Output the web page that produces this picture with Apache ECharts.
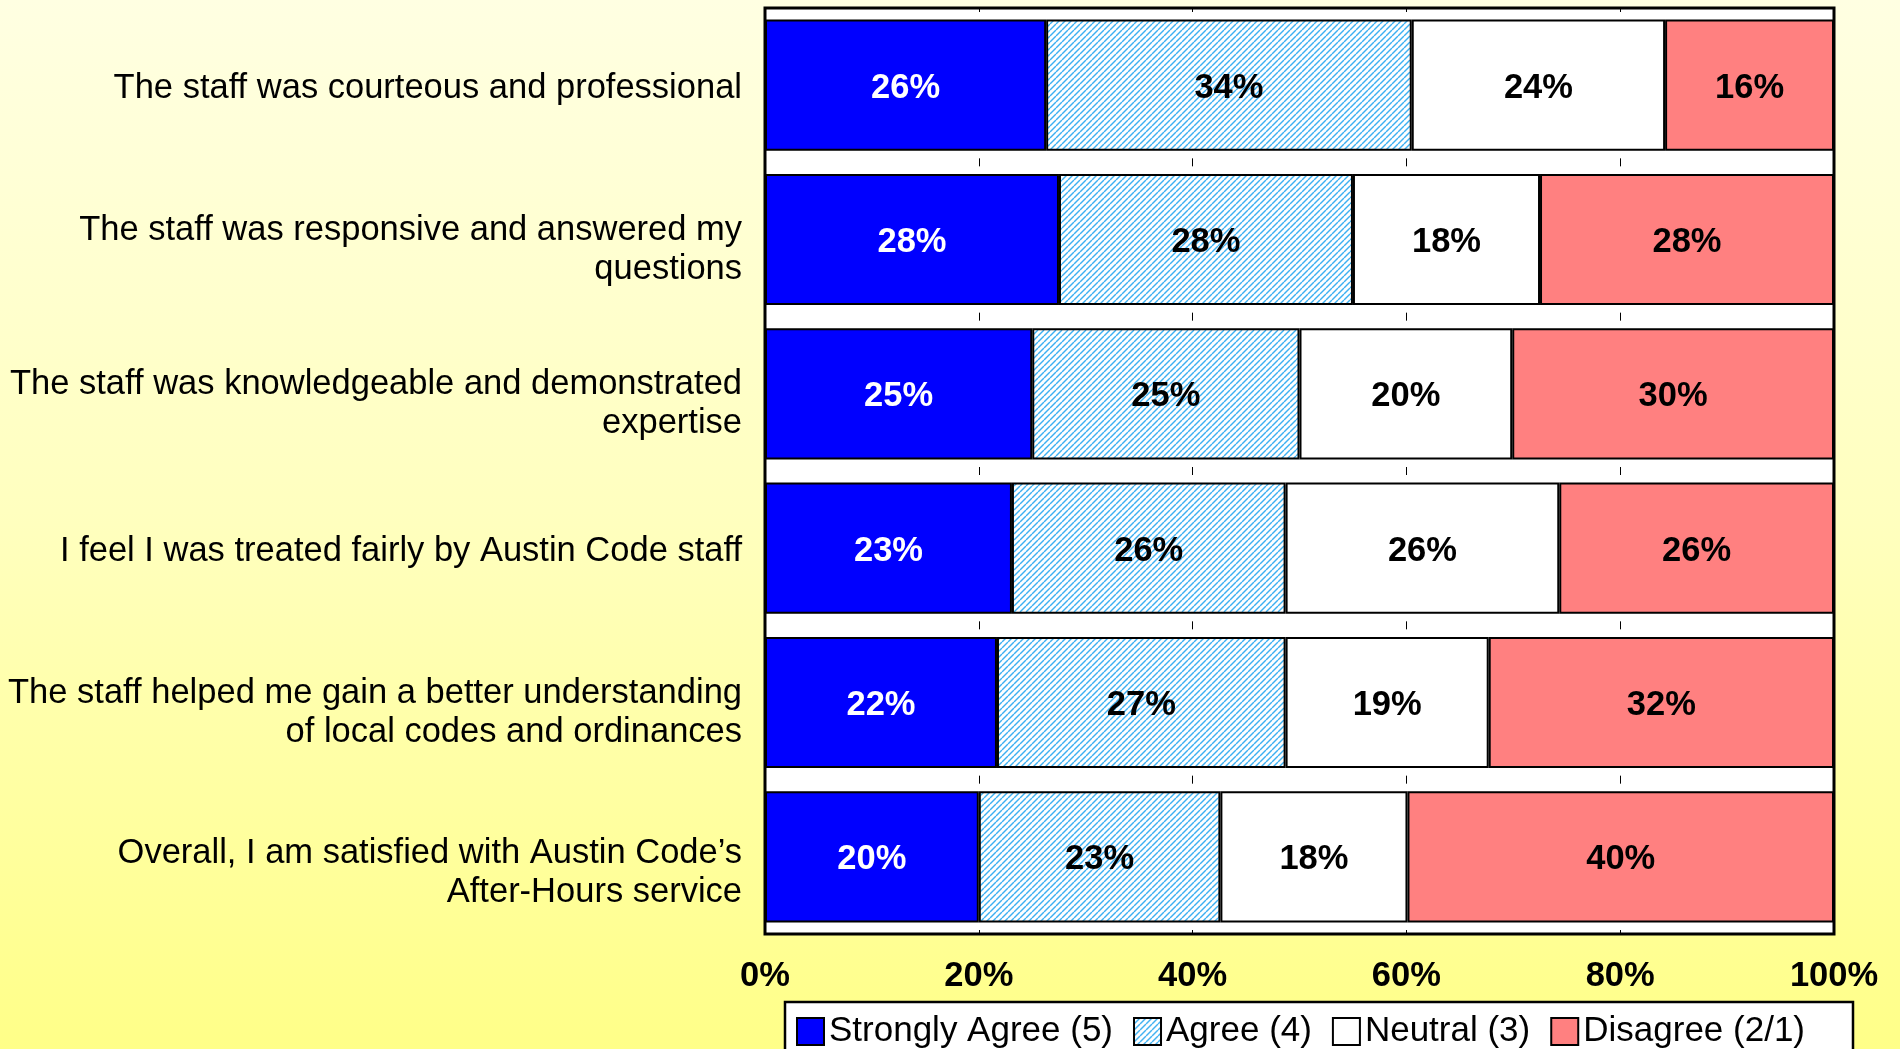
<!DOCTYPE html>
<html>
<head>
<meta charset="utf-8">
<title>Austin Code After-Hours survey</title>
<script src="https://cdn.jsdelivr.net/npm/echarts@6/dist/echarts.min.js"></script>
<style>
    html, body { margin: 0; padding: 0; }
    #chart { width: 1900px; height: 1049px; }
</style>
</head>
<body>
<div id="chart"></div>
<script>
// survey statements, top to bottom
var categories = [
    'The staff was courteous and professional',
    'The staff was responsive and answered my\nquestions',
    'The staff was knowledgeable and demonstrated\nexpertise',
    'I feel I was treated fairly by Austin Code staff',
    'The staff helped me gain a better understanding\nof local codes and ordinances',
    'Overall, I am satisfied with Austin Code\u2019s\nAfter-Hours service'
];
var seriesNames = ['Strongly Agree (5)', 'Agree (4)', 'Neutral (3)', 'Disagree (2/1)'];

// percentages
var stronglyAgree = [26.3, 27.5, 25.0, 23.1, 21.7, 20.0];
var agree         = [34.2, 27.5, 25.0, 25.6, 27.0, 22.6];
var neutral       = [23.7, 17.5, 19.9, 25.6, 19.0, 17.5];
var disagree      = [15.8, 27.5, 30.1, 25.7, 32.3, 39.9];

var xTicks = [0, 20, 40, 60, 80, 100];

var FONT = '"Liberation Sans", Arial, sans-serif';

// hatched fill for "Agree"
function hatch() {
    var s = 6;
    var c = document.createElement('canvas');
    c.width = s; c.height = s;
    var ctx = c.getContext('2d');
    ctx.fillStyle = '#fff';
    ctx.fillRect(0, 0, s, s);
    ctx.strokeStyle = '#3cb0f2';
    ctx.lineWidth = 1.4;
    for (var k = -1; k <= 1; k++) {
        ctx.beginPath();
        ctx.moveTo(k * s, s);
        ctx.lineTo(k * s + s, 0);
        ctx.stroke();
    }
    return { image: c, repeat: 'repeat' };
}

var gridTop = 8, gridBottom = 934;
var band = (gridBottom - gridTop) / categories.length;

function barSeries(name, data, fill, labelColor) {
    return {
        name: name,
        type: 'bar',
        stack: 'total',
        barCategoryGap: '15%',
        data: data,
        itemStyle: { color: fill, borderColor: '#000', borderWidth: 2 },
        emphasis: { disabled: true },
        label: {
            show: true,
            position: 'inside',
            offset: [0, 3],
            color: labelColor,
            fontFamily: FONT,
            fontWeight: 'bold',
            fontSize: 34.5,
            formatter: function (p) { return Math.round(p.value) + '%'; }
        }
    };
}

// rich styles for the statement labels; padding top nudges the text down
function labelStyle(pad) {
    return { fontFamily: FONT, fontSize: 34.5, color: '#000', lineHeight: 39, padding: [pad, 0, 0, 0] };
}

var myChart = echarts.init(document.getElementById('chart'));
myChart.setOption({
    backgroundColor: {
        type: 'linear', x: 0, y: 0, x2: 0, y2: 1,
        colorStops: [
            { offset: 0, color: '#ffffe2' },
            { offset: 0.5, color: '#ffffbe' },
            { offset: 1, color: '#ffff88' }
        ]
    },
    animation: false,
    textStyle: { fontFamily: FONT },
    grid: {
        left: 765,
        right: 66,
        top: gridTop,
        bottom: 1049 - gridBottom,
        show: true,
        backgroundColor: '#fff',
        borderColor: '#000',
        borderWidth: 3,
        containLabel: false
    },
    legend: {
        data: seriesNames,
        selectedMode: false,
        left: 785,
        top: 1002,
        orient: 'horizontal',
        icon: 'rect',
        itemWidth: 27,
        itemHeight: 27,
        itemGap: 20,
        padding: [12, 48, 20, 11],
        backgroundColor: '#fff',
        borderColor: '#000',
        borderWidth: 2.5,
        itemStyle: { borderColor: '#000', borderWidth: 2 },
        textStyle: { fontFamily: FONT, fontSize: 35, color: '#000' }
    },
    xAxis: {
        type: 'value',
        min: 0,
        max: 100,
        interval: 20,
        axisLine: { show: false },
        axisTick: { show: false },
        splitLine: {
            show: true,
            lineStyle: { color: '#000', width: 1, type: [8, band - 8], dashOffset: 4 }
        },
        axisLabel: {
            margin: 25,
            color: '#000',
            fontFamily: FONT,
            fontWeight: 'bold',
            fontSize: 34.5,
            formatter: function (v) { return xTicks.indexOf(v) >= 0 ? v + '%' : ''; }
        }
    },
    yAxis: {
        type: 'category',
        inverse: true,
        data: categories,
        axisLine: { show: false },
        axisTick: { show: false },
        axisLabel: {
            margin: 23,
            color: '#000',
            fontFamily: FONT,
            fontSize: 34.5,
            align: 'right',
            formatter: function (v, i) {
                var lines = v.split('\n');
                var st = lines.length === 1 ? 's' : (i === categories.length - 1 ? 'l' : 'm');
                return lines.map(function (s) { return '{' + st + '|' + s + '}'; }).join('\n');
            },
            rich: {
                s: labelStyle(6),
                m: labelStyle(20),
                l: labelStyle(32)
            }
        }
    },
    series: [
        barSeries(seriesNames[0], stronglyAgree, '#0000ff', '#fff'),
        barSeries(seriesNames[1], agree, hatch(), '#000'),
        barSeries(seriesNames[2], neutral, '#fff', '#000'),
        barSeries(seriesNames[3], disagree, '#ff8080', '#000')
    ]
});
</script>
</body>
</html>
